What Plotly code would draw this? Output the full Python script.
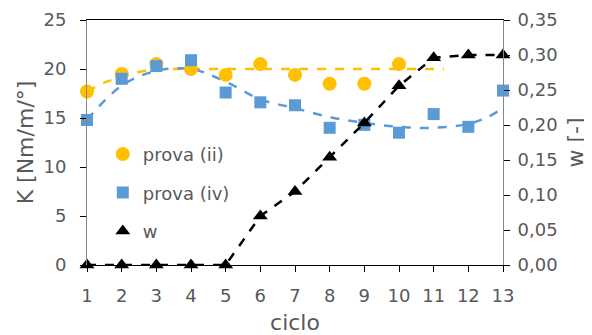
import plotly.graph_objects as go

ciclo = list(range(1, 14))
prova_ii = [17.7, 19.5, 20.5, 20.0, 19.4, 20.5, 19.4, 18.5, 18.5, 20.5]
prova_iv = [14.8, 19.0, 20.3, 20.9, 17.6, 16.6, 16.3, 14.0, 14.3, 13.5, 15.4, 14.1, 17.8]
w = [0.0, 0.0, 0.0, 0.0, 0.0, 0.07, 0.105, 0.154, 0.203, 0.256, 0.296, 0.30, 0.30]

# trend lines
trend_ii_x = [1, 1.5, 2, 2.5, 3, 3.5, 4, 5, 6, 7, 8, 9, 10, 11, 11.3]
trend_ii_y = [17.7, 18.6, 19.2, 19.7, 19.95, 20.0, 20.0, 20.0, 20.0, 20.0, 20.0, 20.0, 20.0, 20.0, 20.0]
trend_iv_x = [1, 2, 3, 4, 5, 6, 7, 8, 9, 10, 11, 12, 12.5, 13]
trend_iv_y = [14.8, 18.3, 19.8, 20.0, 18.7, 16.9, 16.0, 15.1, 14.5, 14.1, 14.0, 14.4, 15.0, 16.0]

FONT = "DejaVu Sans"
GRAY = "#595959"

fig = go.Figure()
fig.add_trace(go.Scatter(x=trend_ii_x, y=trend_ii_y, mode="lines", line=dict(color="#FFC000", width=2.5, dash="dash", shape="spline"),
                         showlegend=False, hoverinfo="skip"))
fig.add_trace(go.Scatter(x=trend_iv_x, y=trend_iv_y, mode="lines", line=dict(color="#5B9BD5", width=2.5, dash="dash", shape="spline"),
                         showlegend=False, hoverinfo="skip"))
fig.add_trace(go.Scatter(x=ciclo, y=w, yaxis="y2", mode="lines", line=dict(color="black", width=2.5, dash="dash"),
                         showlegend=False, hoverinfo="skip"))
fig.add_trace(go.Scatter(x=ciclo[:len(prova_ii)], y=prova_ii, mode="markers", name="prova (ii)", legendgroup="a",
                         marker=dict(color="#FFC000", size=14, symbol="circle"), cliponaxis=False))
fig.add_trace(go.Scatter(x=ciclo, y=prova_iv, mode="markers", name="prova (iv)", legendgroup="b",
                         marker=dict(color="#5B9BD5", size=12, symbol="square"), cliponaxis=False))
fig.add_trace(go.Scatter(x=ciclo, y=w, yaxis="y2", mode="markers", name="w", legendgroup="c",
                         marker=dict(color="black", size=13, symbol="triangle-up"), cliponaxis=False))

inner = dict(ticks="inside", ticklen=6, tickcolor="black", showticklabels=False, showline=False,
             showgrid=False, zeroline=False, automargin=False)

fig.update_layout(
    width=584, height=327,
    margin=dict(l=79, r=89, t=12, b=70),
    paper_bgcolor="white", plot_bgcolor="white",
    font=dict(family=FONT, size=18, color=GRAY),
    xaxis=dict(range=[1, 13], tickmode="array", tickvals=ciclo, ticktext=[str(c) for c in ciclo],
               showline=True, linecolor="black", linewidth=1, mirror=True, automargin=False,
               ticks="outside", ticklen=6, tickcolor="black", showgrid=False, zeroline=False,
               ticklabelstandoff=8,
               title=dict(text="ciclo", standoff=15)),
    yaxis=dict(range=[0, 25], dtick=5, showline=True, linecolor="#868686", linewidth=1, automargin=False,
               ticks="outside", ticklen=6, tickcolor="black", showgrid=False, zeroline=False,
               ticklabelstandoff=10,
               title=dict(text="K [Nm/m/°]", standoff=3)),
    yaxis2=dict(range=[0, 0.35], dtick=0.05, tickformat=".2f", overlaying="y", side="right",
                showline=True, linecolor="#868686", linewidth=1, automargin=False,
                ticks="outside", ticklen=6, tickcolor="black", showgrid=False, zeroline=False,
                ticklabelstandoff=4,
                title=dict(text="w [-]", standoff=10)),
    xaxis3=dict(range=[1, 13], tickmode="array", tickvals=ciclo, overlaying="x", anchor="y", **inner),
    yaxis3=dict(range=[0, 25], dtick=5, overlaying="y", side="left", anchor="x", **inner),
    yaxis4=dict(range=[0, 0.35], dtick=0.05, overlaying="y", side="right", anchor="x", **inner),
    separators=",.",
    legend=dict(x=0.038, y=0.527, xanchor="left", yanchor="top", bgcolor="rgba(0,0,0,0)",
                tracegroupgap=12, traceorder="grouped", font=dict(size=18, color=GRAY)),
)

fig.write_html("out.html")
